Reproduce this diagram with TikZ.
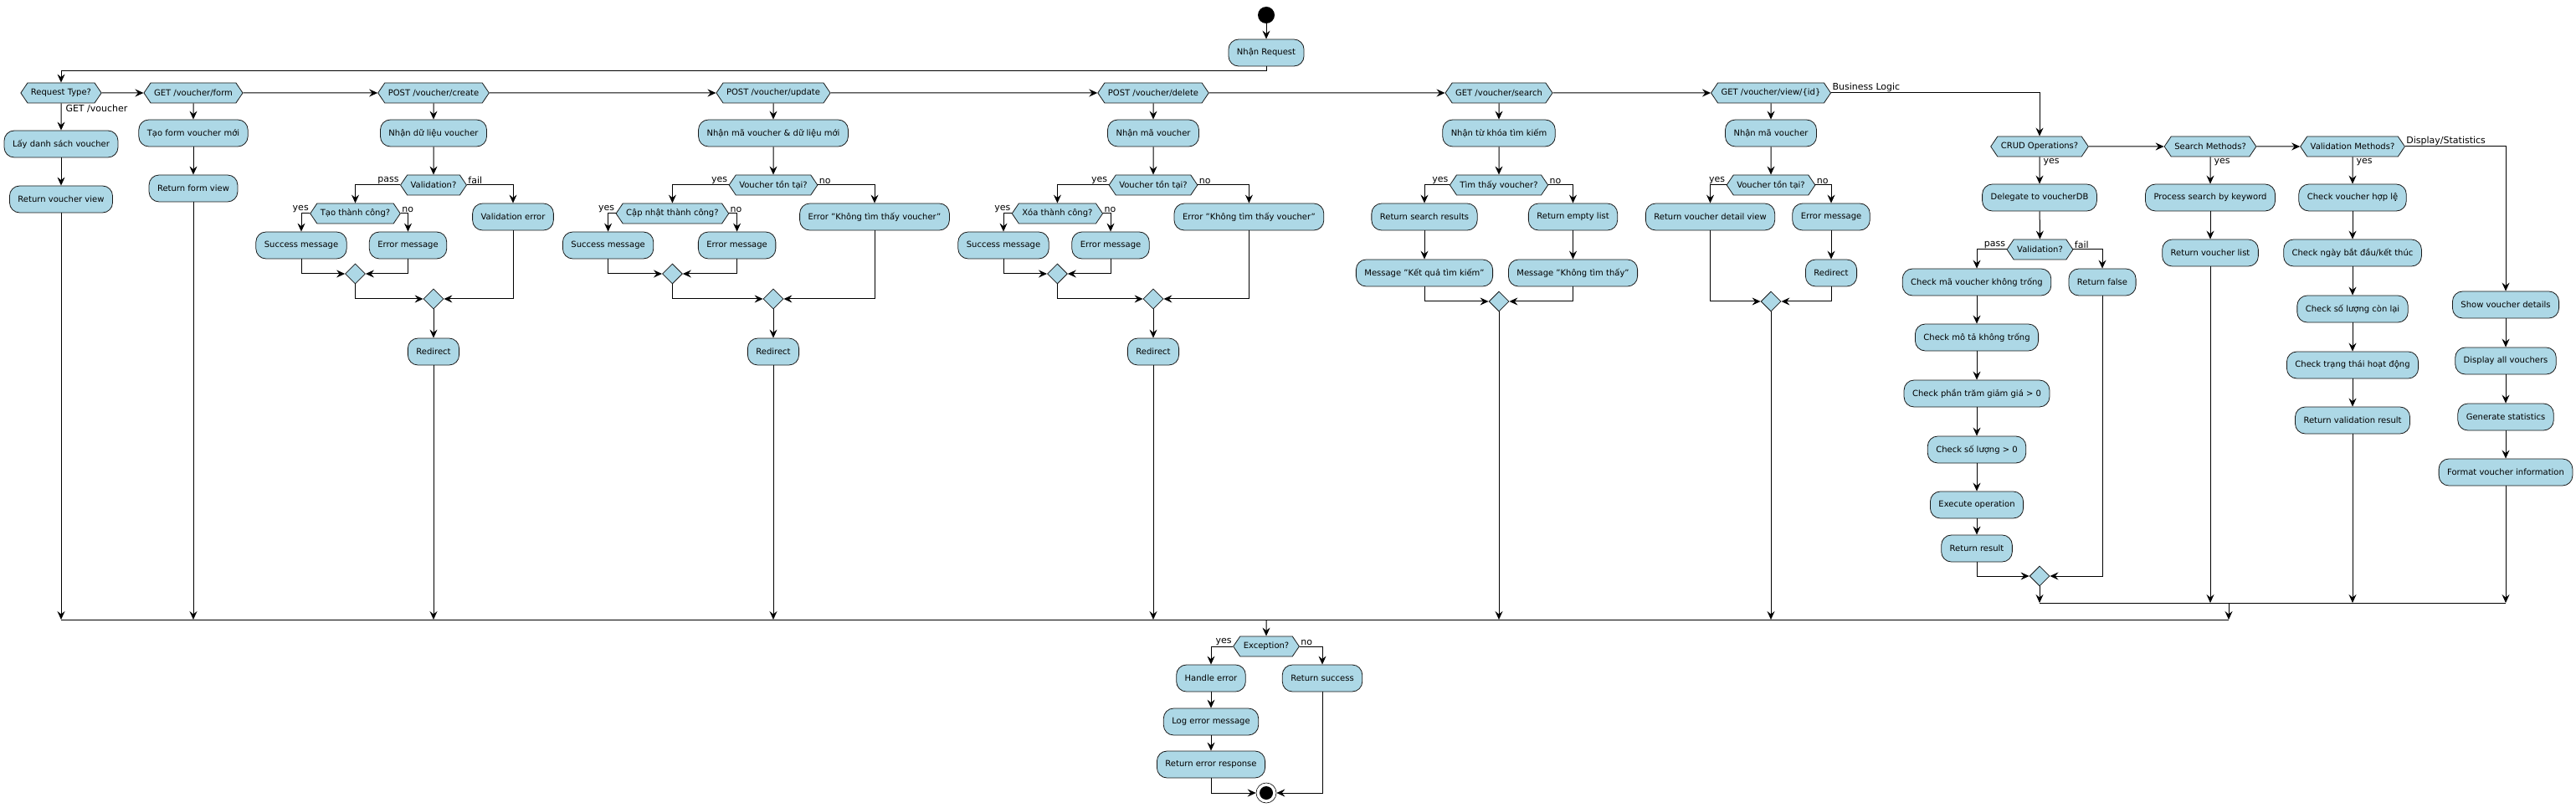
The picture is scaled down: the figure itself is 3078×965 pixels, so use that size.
\documentclass[tikz,border=0pt]{standalone}
\usepackage{fontspec}
\setmainfont{DejaVu Sans}
\usetikzlibrary{arrows.meta,shapes.geometric,shapes.symbols,positioning}
\definecolor{actblue}{HTML}{ADD8E6}

\begin{document}
\begin{tikzpicture}[x=1pt,y=-1pt,
    act/.style={draw=black!90,line width=0.8pt,fill=actblue,rounded corners=12pt,minimum height=32pt,inner xsep=10pt,inner ysep=0pt,font=\fontsize{10}{12}\selectfont},
    cond/.style={draw=black!90,line width=0.8pt,fill=actblue,signal,signal to=east and west,signal pointer angle=112,minimum height=24pt,inner xsep=4pt,inner ysep=0pt,font=\fontsize{10}{12}\selectfont},
    merge/.style={draw=black!90,line width=0.8pt,fill=actblue,diamond,minimum width=24pt,minimum height=24pt,inner sep=0pt},
    arr/.style={-{Stealth[length=10pt,width=9pt,inset=3.5pt]},line width=1pt},
    ln/.style={line width=1pt},
    lbl/.style={font=\fontsize{11}{13}\selectfont,inner sep=1pt}]
  \useasboundingbox (0,0) rectangle (3078,965);

  % start
  \node[circle,fill=black,minimum size=20pt,inner sep=0pt] (start) at (1513,18) {};
  \node[act] (req) at (1513,63) {Nhận Request};

  % request types
  \node[cond] (rt) at (73,111) {Request Type?};
  \node[cond] (gf) at (231,111) {GET /voucher/form};
  \node[cond] (pc) at (518,111) {POST /voucher/create};
  \node[cond] (pu) at (924,111) {POST /voucher/update};
  \node[cond] (pd) at (1378,111) {POST /voucher/delete};
  \node[cond] (gs) at (1791,111) {GET /voucher/search};
  \node[cond] (gv) at (2116,111) {GET /voucher/view/\{id\}};

  % GET /voucher
  \node[act] (a1) at (73,172) {Lấy danh sách voucher};
  \node[act] (a2) at (73,238) {Return voucher view};

  % GET /voucher/form
  \node[act] (b1) at (231,159) {Tạo form voucher mới};
  \node[act] (b2) at (231,225) {Return form view};

  % POST /voucher/create
  \node[act] (c1) at (518,159) {Nhận dữ liệu voucher};
  \node[cond] (cv) at (518,221) {Validation?};
  \node[cond] (ct) at (424.5,255) {Tạo thành công?};
  \node[act] (cs) at (360,293) {Success message};
  \node[act] (ce) at (487.5,293) {Error message};
  \node[merge] (cm1) at (424.5,327) {};
  \node[act] (cf) at (613,259) {Validation error};
  \node[merge] (cm2) at (518,357) {};
  \node[act] (cr) at (518,420) {Redirect};

  % POST /voucher/update
  \node[act] (d1) at (924,159) {Nhận mã voucher \& dữ liệu mới};
  \node[cond] (dv) at (924,221) {Voucher tồn tại?};
  \node[cond] (dt) at (803.4,255) {Cập nhật thành công?};
  \node[act] (ds) at (726.6,293) {Success message};
  \node[act] (de) at (880.6,293) {Error message};
  \node[merge] (dm1) at (803.4,327) {};
  \node[act] (df) at (1045,259) {Error "Không tìm thấy voucher"};
  \node[merge] (dm2) at (924,357) {};
  \node[act] (dr) at (924,420) {Redirect};

  % POST /voucher/delete
  \node[act] (e1) at (1378,159) {Nhận mã voucher};
  \node[cond] (ev) at (1378,221) {Voucher tồn tại?};
  \node[cond] (et) at (1263.4,255) {Xóa thành công?};
  \node[act] (es) at (1199,293) {Success message};
  \node[act] (ee) at (1327,293) {Error message};
  \node[merge] (em1) at (1263.4,327) {};
  \node[act] (ef) at (1492.4,259) {Error "Không tìm thấy voucher"};
  \node[merge] (em2) at (1378,357) {};
  \node[act] (er) at (1378,420) {Redirect};

  % GET /voucher/search
  \node[act] (f1) at (1791,159) {Nhận từ khóa tìm kiếm};
  \node[cond] (fv) at (1791,221) {Tìm thấy voucher?};
  \node[act] (fs) at (1702,259) {Return search results};
  \node[act] (fk) at (1702,326) {Message "Kết quả tìm kiếm"};
  \node[act] (fe) at (1879.5,259) {Return empty list};
  \node[act] (fn) at (1879.5,326) {Message "Không tìm thấy"};
  \node[merge] (fm) at (1791,360) {};

  % GET /voucher/view/{id}
  \node[act] (g1) at (2116,159) {Nhận mã voucher};
  \node[cond] (gvv) at (2116,221) {Voucher tồn tại?};
  \node[act] (gd) at (2043.5,259) {Return voucher detail view};
  \node[act] (ge) at (2188,259) {Error message};
  \node[act] (gr) at (2188,326) {Redirect};
  \node[merge] (gm) at (2116,360) {};

  % business logic
  \node[cond] (crud) at (2437,175) {CRUD Operations?};
  \node[cond] (sm) at (2641,175) {Search Methods?};
  \node[cond] (vm) at (2811,175) {Validation Methods?};
  \node[act] (h1) at (2437,236) {Delegate to voucherDB};
  \node[cond] (hv) at (2437.5,298) {Validation?};
  \node[act] (h2) at (2362,337) {Check mã voucher không trống};
  \node[act] (h3) at (2362,403) {Check mô tả không trống};
  \node[act] (h4) at (2362,470) {Check phần trăm giảm giá > 0};
  \node[act] (h5) at (2362,537) {Check số lượng > 0};
  \node[act] (h6) at (2362,603) {Execute operation};
  \node[act] (h7) at (2362,655) {Return result};
  \node[act] (hf) at (2512,337) {Return false};
  \node[merge] (hm) at (2437,688) {};
  \node[act] (i1) at (2641,236) {Process search by keyword};
  \node[act] (i2) at (2641,302) {Return voucher list};
  \node[act] (j1) at (2811,236) {Check voucher hợp lệ};
  \node[act] (j2) at (2811,302) {Check ngày bắt đầu/kết thúc};
  \node[act] (j3) at (2811,369) {Check số lượng còn lại};
  \node[act] (j4) at (2811,436) {Check trạng thái hoạt động};
  \node[act] (j5) at (2811,502) {Return validation result};
  \node[act] (k1) at (2994,364) {Show voucher details};
  \node[act] (k2) at (2994,431) {Display all vouchers};
  \node[act] (k3) at (2994,498) {Generate statistics};
  \node[act] (k4) at (2994,564) {Format voucher information};

  % merge bars
  \coordinate (blL) at (2437,720);
  \coordinate (blR) at (2994,720);
  \coordinate (blM) at (2663,720);
  \coordinate (barL) at (73,740);
  \coordinate (barR) at (2663,740);
  \coordinate (barM) at (1513,740);

  % exception
  \node[cond] (ex) at (1513,772) {Exception?};
  \node[act] (x1) at (1447,810) {Handle error};
  \node[act] (x2) at (1447,862) {Log error message};
  \node[act] (x3) at (1447,913) {Return error response};
  \node[act] (xs) at (1580,810) {Return success};
  \node[circle,draw=black,line width=0.6pt,fill=white,minimum size=24pt,inner sep=0pt] (stop) at (1513,947) {};
  \fill (stop.center) circle[radius=8pt];

  % edges
  \draw[arr] (start) -- (req);
  \draw[arr] (req.south) -- ++(0,5) -| (rt);
  \foreach \a/\b in {rt/gf,gf/pc,pc/pu,pu/pd,pd/gs,gs/gv}
    \draw[arr] (\a) -- (\b);
  \draw[arr] (gv) -| node[lbl,pos=0,anchor=south west] {Business Logic} (crud);

  \draw[arr] (rt) -- node[lbl,pos=0,anchor=north west,xshift=4pt] {GET /voucher} (a1);
  \draw[arr] (a1) -- (a2);
  \draw[arr] (gf) -- (b1);
  \draw[arr] (b1) -- (b2);

  \draw[arr] (pc) -- (c1);
  \draw[arr] (c1) -- (cv);
  \draw[arr] (cv) -| node[lbl,pos=0,anchor=south east] {pass} (ct);
  \draw[arr] (cv) -| node[lbl,pos=0,anchor=south west] {fail} (cf);
  \draw[arr] (ct) -| node[lbl,pos=0,anchor=south east] {yes} (cs);
  \draw[arr] (ct) -| node[lbl,pos=0,anchor=south west] {no} (ce);
  \draw[arr] (cs) |- (cm1);
  \draw[arr] (ce) |- (cm1);
  \draw[arr] (cm1) |- (cm2);
  \draw[arr] (cf) |- (cm2);
  \draw[arr] (cm2) -- (cr);

  \draw[arr] (pu) -- (d1);
  \draw[arr] (d1) -- (dv);
  \draw[arr] (dv) -| node[lbl,pos=0,anchor=south east] {yes} (dt);
  \draw[arr] (dv) -| node[lbl,pos=0,anchor=south west] {no} (df);
  \draw[arr] (dt) -| node[lbl,pos=0,anchor=south east] {yes} (ds);
  \draw[arr] (dt) -| node[lbl,pos=0,anchor=south west] {no} (de);
  \draw[arr] (ds) |- (dm1);
  \draw[arr] (de) |- (dm1);
  \draw[arr] (dm1) |- (dm2);
  \draw[arr] (df) |- (dm2);
  \draw[arr] (dm2) -- (dr);

  \draw[arr] (pd) -- (e1);
  \draw[arr] (e1) -- (ev);
  \draw[arr] (ev) -| node[lbl,pos=0,anchor=south east] {yes} (et);
  \draw[arr] (ev) -| node[lbl,pos=0,anchor=south west] {no} (ef);
  \draw[arr] (et) -| node[lbl,pos=0,anchor=south east] {yes} (es);
  \draw[arr] (et) -| node[lbl,pos=0,anchor=south west] {no} (ee);
  \draw[arr] (es) |- (em1);
  \draw[arr] (ee) |- (em1);
  \draw[arr] (em1) |- (em2);
  \draw[arr] (ef) |- (em2);
  \draw[arr] (em2) -- (er);

  \draw[arr] (gs) -- (f1);
  \draw[arr] (f1) -- (fv);
  \draw[arr] (fv) -| node[lbl,pos=0,anchor=south east] {yes} (fs);
  \draw[arr] (fv) -| node[lbl,pos=0,anchor=south west] {no} (fe);
  \draw[arr] (fs) -- (fk);
  \draw[arr] (fe) -- (fn);
  \draw[arr] (fk) |- (fm);
  \draw[arr] (fn) |- (fm);

  \draw[arr] (gv) -- (g1);
  \draw[arr] (g1) -- (gvv);
  \draw[arr] (gvv) -| node[lbl,pos=0,anchor=south east] {yes} (gd);
  \draw[arr] (gvv) -| node[lbl,pos=0,anchor=south west] {no} (ge);
  \draw[arr] (ge) -- (gr);
  \draw[arr] (gd) |- (gm);
  \draw[arr] (gr) |- (gm);

  % business logic edges
  \draw[arr] (crud) -- (sm);
  \draw[arr] (sm) -- (vm);
  \draw[arr] (vm) -| node[lbl,pos=0,anchor=south west] {Display/Statistics} (k1);
  \draw[arr] (crud) -- node[lbl,pos=0,anchor=north west,xshift=3pt] {yes} (h1);
  \draw[arr] (h1) -- (hv);
  \draw[arr] (hv) -| node[lbl,pos=0,anchor=south east] {pass} (h2);
  \draw[arr] (hv) -| node[lbl,pos=0,anchor=south west] {fail} (hf);
  \foreach \a/\b in {h2/h3,h3/h4,h4/h5,h5/h6,h6/h7,i1/i2,j1/j2,j2/j3,j3/j4,j4/j5,k1/k2,k2/k3,k3/k4}
    \draw[arr] (\a) -- (\b);
  \draw[arr] (h7) |- (hm);
  \draw[arr] (hf) |- (hm);
  \draw[arr] (sm) -- node[lbl,pos=0,anchor=north west,xshift=3pt] {yes} (i1);
  \draw[arr] (vm) -- node[lbl,pos=0,anchor=north west,xshift=3pt] {yes} (j1);
  \foreach \n in {hm,i2,j5,k4}
    \draw[arr] (\n) -- (\n |- blL);
  \draw[ln] (blL) -- (blR);
  \draw[arr] (blM) -- (barR);

  % main merge
  \foreach \n in {a2,b2,cr,dr,er,fm,gm}
    \draw[arr] (\n) -- (\n |- barL);
  \draw[ln] (barL) -- (barR);
  \draw[arr] (barM) -- (ex);
  \draw[arr] (ex) -| node[lbl,pos=0,anchor=south east] {yes} (x1);
  \draw[arr] (ex) -| node[lbl,pos=0,anchor=south west] {no} (xs);
  \draw[arr] (x1) -- (x2);
  \draw[arr] (x2) -- (x3);
  \draw[arr] (x3) |- (stop);
  \draw[arr] (xs) |- (stop);
\end{tikzpicture}
\end{document}
